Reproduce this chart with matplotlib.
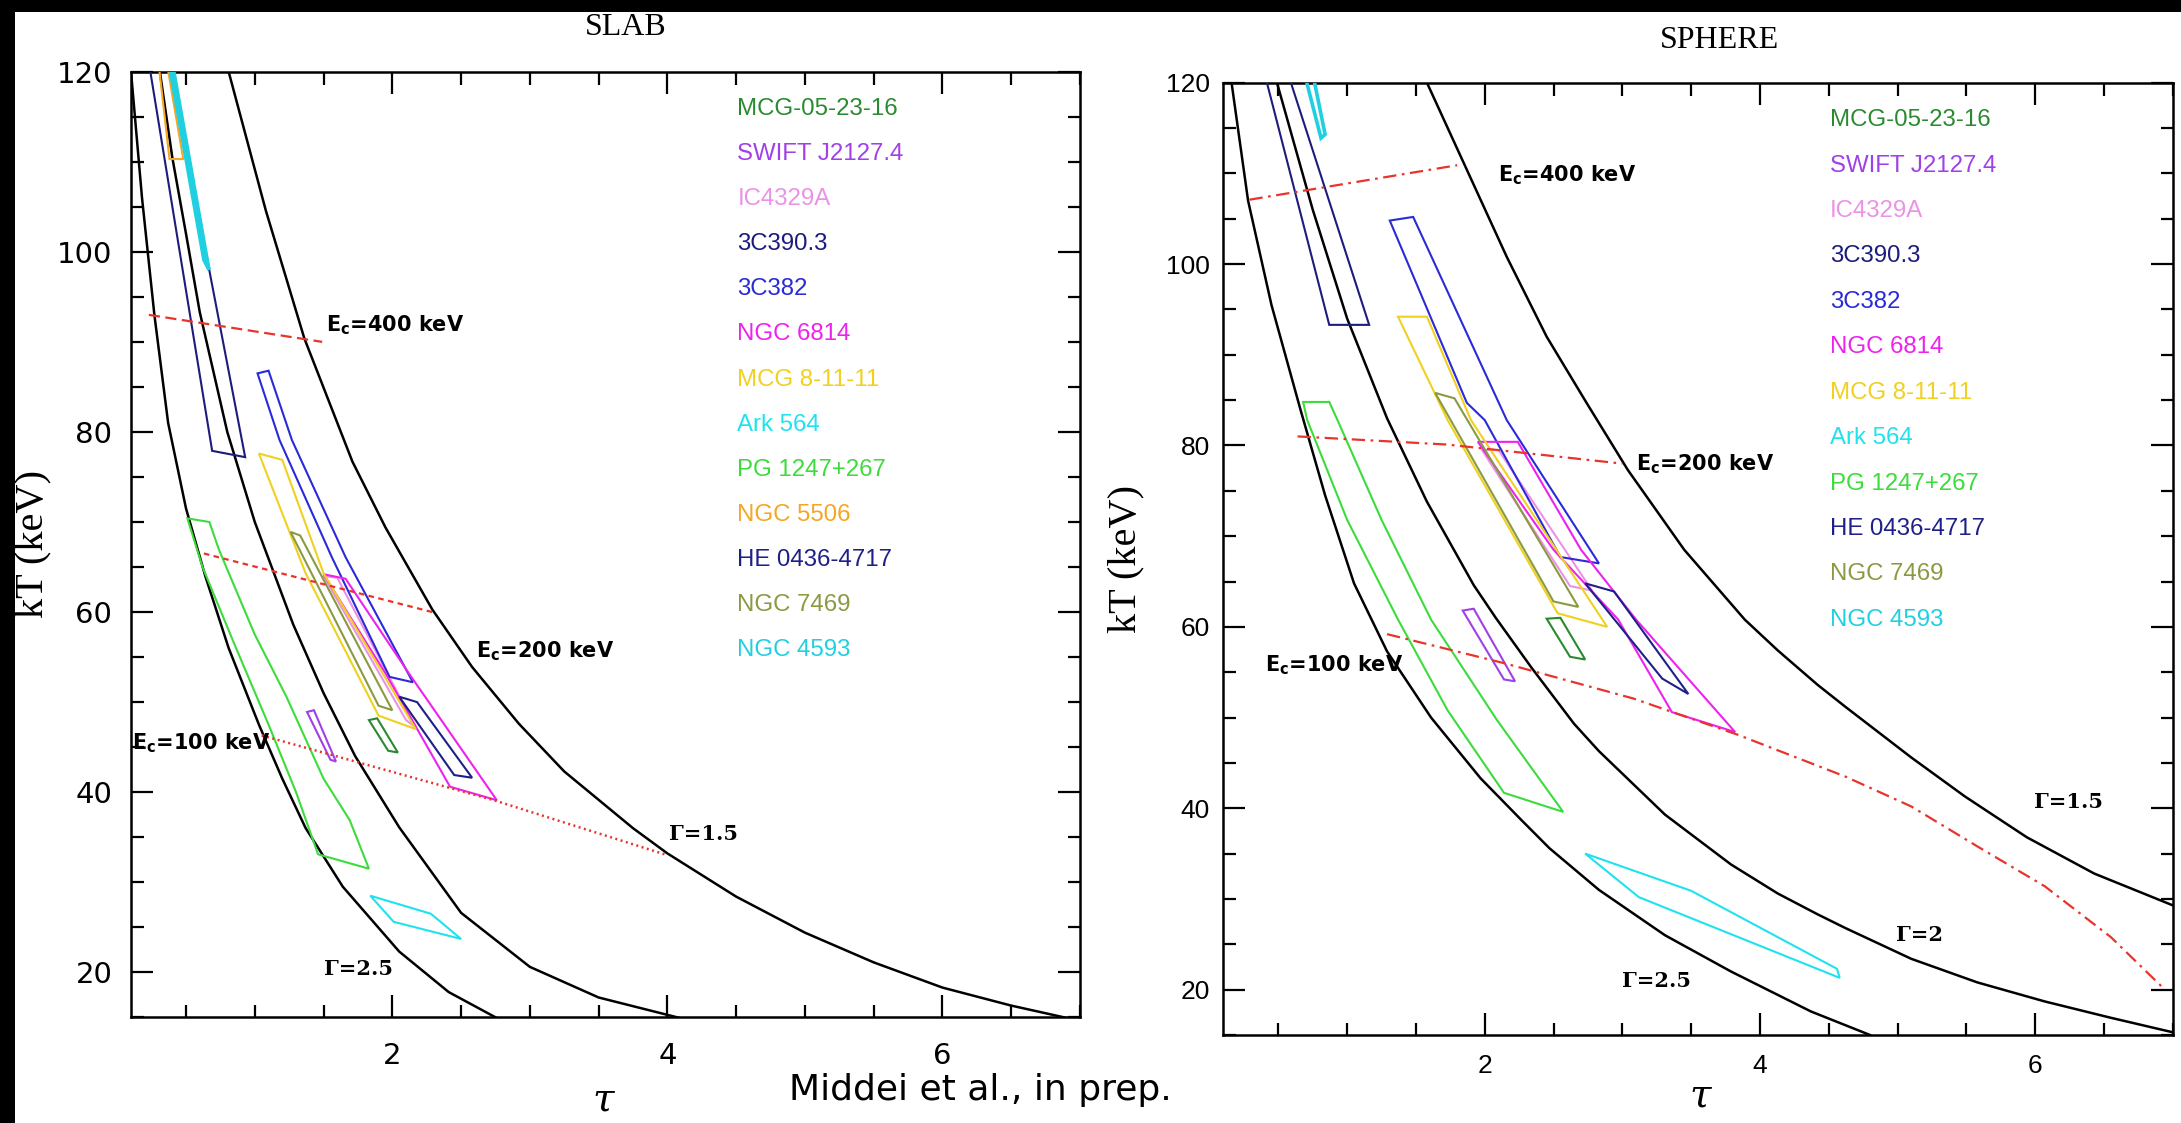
import matplotlib
matplotlib.use("Agg")
import matplotlib.pyplot as plt
from matplotlib.patches import Polygon, Rectangle
from matplotlib.ticker import MultipleLocator

plt.rcParams["mathtext.fontset"] = "custom"
plt.rcParams["mathtext.rm"] = "DejaVu Sans:bold"
plt.rcParams["mathtext.default"] = "rm"

# sources, in the order of the coloured list
sources = ["MCG-05-23-16", "SWIFT J2127.4", "IC4329A", "3C390.3", "3C382", "NGC 6814",
           "MCG 8-11-11", "Ark 564", "PG 1247+267", "NGC 5506", "HE 0436-4717",
           "NGC 7469", "NGC 4593"]
source_colors = ["#2a8a30", "#a040e8", "#ec92e6", "#1c1c7c", "#2a2ad8", "#ee22ee",
                 "#f0d020", "#20e2ee", "#3cdc3c", "#f5a623", "#1e2088",
                 "#8a9a40", "#20d0e0"]

# ---- SLAB: constant photon index curves (tau, kT) ----
slab_g15_tau = [0.81, 1.08, 1.36, 1.71, 1.95, 2.29, 2.58, 2.92, 3.25, 3.75, 4.0, 4.5, 5.0, 5.5, 6.0, 6.5, 7.0]
slab_g15_kt = [120, 104.6, 90.4, 76.7, 69.4, 60.3, 53.9, 47.6, 42.3, 36.0, 33.2, 28.4, 24.4, 21.1, 18.3, 16.3, 14.6]
slab_g2_tau = [0.31, 0.4, 0.5, 0.6, 0.8, 1.0, 1.28, 1.5, 1.73, 2.05, 2.5, 3.0, 3.5, 4.2]
slab_g2_kt = [120, 110.5, 102, 93.3, 80, 70, 58.6, 51, 44, 36.1, 26.6, 20.6, 17.2, 14.5]
slab_g25_tau = [0.10, 0.18, 0.27, 0.37, 0.50, 0.64, 0.81, 1.03, 1.20, 1.37, 1.64, 2.05, 2.41, 2.75]
slab_g25_kt = [120, 106, 93, 81, 71.5, 64, 56, 47.5, 41.5, 36, 29.5, 22.3, 17.8, 15]

# SLAB: cut-off energy tracks
slab_ec400_tau = [0.23, 1.49]
slab_ec400_kt = [93.0, 90.0]
slab_ec200_tau = [0.63, 2.29]
slab_ec200_kt = [66.5, 60.0]
slab_ec100_tau = [1.05, 2.74, 4.0]
slab_ec100_kt = [46.3, 39.1, 33.0]

# SLAB: confidence contours (tau, kT)
slab_mcg0523 = [(1.83, 48.0), (1.97, 44.6), (2.04, 44.4), (1.89, 48.2)]
slab_swift = [(1.38, 48.9), (1.55, 43.6), (1.59, 43.4), (1.43, 49.1)]
slab_ic4329a = [(1.50, 64.0), (2.10, 48.0), (2.17, 47.2), (1.60, 63.8)]
slab_3c390 = [(0.23, 121), (0.69, 77.9), (0.93, 77.2), (0.38, 121)]
slab_3c382 = [(1.02, 86.5), (1.18, 79.1), (1.56, 66.1), (1.98, 52.8), (2.15, 52.2),
              (1.66, 66.1), (1.27, 79.1), (1.10, 86.8)]
slab_ngc6814 = [(1.50, 64.2), (1.95, 53.2), (2.42, 40.6), (2.76, 39.1), (2.12, 53.2), (1.66, 63.7)]
slab_mcg81111 = [(1.03, 77.6), (1.37, 64.3), (1.90, 48.5), (2.17, 47.0), (1.50, 64.3), (1.20, 76.9)]
slab_ark564 = [(1.84, 28.5), (2.28, 26.5), (2.50, 23.7), (2.01, 25.6)]
slab_pg1247 = [(0.51, 70.4), (0.62, 65.0), (0.85, 56.5), (1.10, 47.5), (1.30, 40.0), (1.46, 33.1),
               (1.83, 31.5), (1.69, 36.9), (1.50, 41.5), (1.23, 50.6), (1.0, 57.5), (0.74, 66.9), (0.67, 70.0)]
slab_ngc5506 = [(0.30, 121), (0.38, 110.3), (0.48, 110.3), (0.36, 121)]
slab_he0436 = [(2.05, 50.6), (2.45, 41.9), (2.58, 41.6), (2.18, 50.0)]
slab_ngc7469 = [(1.26, 68.9), (1.90, 49.6), (2.00, 49.1), (1.33, 68.5)]
slab_ngc4593 = [(0.376, 121), (0.63, 99.1), (0.667, 98.0), (0.40, 121)]

# ---- SPHERE: constant photon index curves ----
sph_g15_tau = [1.58, 1.87, 2.16, 2.45, 2.74, 3.04, 3.45, 3.89, 4.13, 4.42, 4.62, 5.10, 5.49, 5.94, 6.43, 7.0]
sph_g15_kt = [120, 110.4, 100.8, 92.0, 84.7, 77.3, 68.5, 60.8, 57.4, 53.6, 51.2, 45.6, 41.3, 36.8, 32.8, 29.3]
sph_g2_tau = [0.49, 0.75, 1.0, 1.29, 1.58, 1.92, 2.08, 2.34, 2.65, 2.83, 3.31, 3.79, 4.13, 4.42,
              4.62, 5.10, 5.58, 6.07, 6.55, 7.0]
sph_g2_kt = [120, 106, 94, 83, 73.8, 64.6, 61, 55.5, 49.3, 46.3, 39.3, 33.8, 30.6, 28.3,
             26.8, 23.4, 20.8, 18.7, 16.9, 15.3]
sph_g25_tau = [0.16, 0.28, 0.45, 0.66, 0.84, 1.05, 1.29, 1.61, 1.97, 2.26, 2.47, 2.83, 3.31, 3.79, 4.37, 4.80]
sph_g25_kt = [120, 107, 95.5, 84, 74.5, 64.8, 57.3, 50.0, 43.3, 38.8, 35.6, 31.0, 26.0, 22.0, 17.6, 15.0]

# SPHERE: cut-off energy tracks
sph_ec400_tau = [0.29, 1.80]
sph_ec400_kt = [107.1, 110.9]
sph_ec200_tau = [0.64, 1.73, 3.0]
sph_ec200_kt = [81.0, 80.1, 78.0]
sph_ec100_tau = [1.29, 2.14, 3.08, 3.84, 4.62, 5.10, 5.58, 6.07, 6.55, 6.93]
sph_ec100_kt = [59.2, 56.0, 52.1, 48.1, 43.5, 40.2, 35.8, 31.4, 25.8, 20.2]

# SPHERE: confidence contours
sph_mcg0523 = [(2.45, 60.9), (2.62, 56.7), (2.73, 56.4), (2.55, 61.0)]
sph_swift = [(1.84, 61.8), (2.14, 54.2), (2.22, 54.0), (1.92, 62.0)]
sph_ic4329a = [(1.98, 79.5), (2.62, 64.5), (2.78, 64.0), (2.10, 79.5)]
sph_3c390 = [(0.40, 121), (0.87, 93.3), (1.16, 93.3), (0.57, 121)]
sph_3c382 = [(1.31, 104.8), (1.87, 84.7), (2.0, 82.8), (2.55, 67.7), (2.83, 67.0), (2.16, 82.8), (1.48, 105.2)]
sph_ngc6814 = [(1.95, 80.4), (2.50, 68.5), (2.97, 60.8), (3.36, 50.6), (3.82, 48.4), (3.10, 60.8),
               (2.70, 68.5), (2.24, 80.4)]
sph_mcg81111 = [(1.37, 94.2), (1.73, 82.8), (2.53, 61.5), (2.89, 60.0), (1.90, 82.8), (1.58, 94.2)]
sph_ark564 = [(2.73, 35.0), (3.50, 30.9), (4.56, 22.3), (4.58, 21.3), (3.12, 30.2)]
sph_pg1247 = [(0.68, 84.8), (0.71, 82.8), (1.0, 71.8), (1.37, 60.8), (1.73, 50.8), (2.14, 41.7),
              (2.57, 39.6), (2.09, 49.7), (1.61, 60.8), (1.25, 71.8), (0.93, 82.8), (0.87, 84.8)]
sph_he0436 = [(2.73, 64.8), (3.29, 54.3), (3.48, 52.6), (2.94, 63.9)]
sph_ngc7469 = [(1.64, 85.8), (2.50, 62.8), (2.68, 62.2), (1.78, 85.2)]
sph_ngc4593 = [(0.69, 121), (0.81, 113.9), (0.84, 114.3), (0.75, 121)]

color_of = dict(zip(sources, source_colors))

slab_contours = [slab_mcg0523, slab_swift, slab_ic4329a, slab_3c390, slab_3c382, slab_ngc6814,
                 slab_mcg81111, slab_ark564, slab_pg1247, slab_ngc5506, slab_he0436,
                 slab_ngc7469, slab_ngc4593]
slab_names = list(sources)
sph_contours = [sph_mcg0523, sph_swift, sph_ic4329a, sph_3c390, sph_3c382, sph_ngc6814,
                sph_mcg81111, sph_ark564, sph_pg1247, sph_he0436, sph_ngc7469, sph_ngc4593]
sph_names = [s for s in sources if s != "NGC 5506"]

W, H = 2181, 1123
fig = plt.figure(figsize=(W / 100, H / 100), dpi=100, facecolor="black")
fig.add_artist(Rectangle((15 / W, 0), 1, 1 - 11.5 / H, transform=fig.transFigure,
                         facecolor="white", edgecolor="none", zorder=-5))

ax1 = fig.add_axes([131 / W, 1 - 1017.3 / H, (1080 - 131) / W, (1017.3 - 71.7) / H])
ax2 = fig.add_axes([1223.3 / W, 1 - 1035 / H, (2172.7 - 1223.3) / W, (1035 - 82.7) / H])


def style_axes(ax, font, size, ypad, xpad):
    ax.set_xlim(0.1, 7)
    ax.set_ylim(15, 120)
    ax.xaxis.set_major_locator(MultipleLocator(2))
    ax.xaxis.set_minor_locator(MultipleLocator(0.5))
    ax.yaxis.set_major_locator(MultipleLocator(20))
    ax.yaxis.set_minor_locator(MultipleLocator(5))
    ax.tick_params(which="both", direction="in", top=True, right=True, width=1.6, color="black")
    ax.tick_params(which="major", length=16)
    ax.tick_params(which="minor", length=9)
    ax.tick_params(axis="y", pad=ypad, labelsize=size, labelfontfamily=font)
    ax.tick_params(axis="x", pad=xpad, labelsize=size, labelfontfamily=font)
    for sp in ax.spines.values():
        sp.set_linewidth(1.8)


def draw_panel(ax, gammas, contours, names):
    for tau, kt in gammas:
        ax.plot(tau, kt, color="black", lw=1.8, zorder=3)
    for poly, name in zip(contours, names):
        lw = 2.6 if name == "NGC 4593" else 1.5
        ax.add_patch(Polygon(poly, closed=True, fill=False, edgecolor=color_of[name], lw=lw, zorder=4))
    for i, name in enumerate(names):
        ax.text(0.639, 0.9606 - i * 0.0477, name, transform=ax.transAxes, color=color_of[name],
                fontsize=17.3, family="Liberation Sans", ha="left", va="center")


red = "#e8342c"
lab = dict(fontsize=15, family="DejaVu Sans", fontweight="bold", ha="left", va="center", zorder=6)
glab = dict(fontsize=15, family="DejaVu Serif", fontweight="bold", ha="left", va="center", zorder=6)

# SLAB panel
style_axes(ax1, "DejaVu Sans", 21, 13.5, 18)
draw_panel(ax1, [(slab_g15_tau, slab_g15_kt), (slab_g2_tau, slab_g2_kt), (slab_g25_tau, slab_g25_kt)],
           slab_contours, slab_names)
ax1.plot(slab_ec400_tau, slab_ec400_kt, color=red, lw=1.6, dashes=[5, 2.5], zorder=5)
ax1.plot(slab_ec200_tau, slab_ec200_kt, color=red, lw=1.6, dashes=[2.5, 2], zorder=5)
ax1.plot(slab_ec100_tau, slab_ec100_kt, color=red, lw=1.8, dashes=[0.8, 1.4], zorder=5)
ax1.text(1.52, 91.8, r"E$_{\rm c}$=400 keV", **lab)
ax1.text(2.61, 55.6, r"E$_{\rm c}$=200 keV", **lab)
ax1.text(0.11, 45.4, r"E$_{\rm c}$=100 keV", **lab)
ax1.text(4.01, 35.4, "Γ=1.5", **glab)
ax1.text(1.50, 20.4, "Γ=2.5", **glab)

# SPHERE panel
style_axes(ax2, "Liberation Sans", 19, 9.5, 13.5)
draw_panel(ax2, [(sph_g15_tau, sph_g15_kt), (sph_g2_tau, sph_g2_kt), (sph_g25_tau, sph_g25_kt)],
           sph_contours, sph_names)
for tau, kt in [(sph_ec400_tau, sph_ec400_kt), (sph_ec200_tau, sph_ec200_kt), (sph_ec100_tau, sph_ec100_kt)]:
    ax2.plot(tau, kt, color=red, lw=1.6, dashes=[6, 2.5, 1.2, 2.5], zorder=5)
ax2.text(2.10, 109.8, r"E$_{\rm c}$=400 keV", **lab)
ax2.text(3.10, 77.9, r"E$_{\rm c}$=200 keV", **lab)
ax2.text(0.40, 55.8, r"E$_{\rm c}$=100 keV", **lab)
ax2.text(5.99, 40.7, "Γ=1.5", **glab)
ax2.text(4.99, 26.0, "Γ=2", **glab)
ax2.text(3.00, 20.9, "Γ=2.5", **glab)

# titles and axis labels
fig.text(626 / W, 1 - 27.5 / H, "SLAB", fontsize=23, family="Liberation Serif", ha="center", va="center")
fig.text(1720 / W, 1 - 40 / H, "SPHERE", fontsize=23, family="Liberation Serif", ha="center", va="center")
fig.text(33 / W, 1 - 544 / H, "kT (keV)", fontsize=29, family="Liberation Serif", rotation=90,
         ha="center", va="center")
fig.text(1126 / W, 1 - 559 / H, "kT (keV)", fontsize=29, family="Liberation Serif", rotation=90,
         ha="center", va="center")
fig.text(603 / W, 1 - 1100 / H, "τ", fontsize=28, family="DejaVu Serif", style="italic",
         ha="center", va="center")
fig.text(1700 / W, 1 - 1096 / H, "τ", fontsize=28, family="DejaVu Serif", style="italic",
         ha="center", va="center")
fig.text(980 / W, 1 - 1090 / H, "Middei et al., in prep.", fontsize=26, family="DejaVu Sans",
         ha="center", va="center")

fig.savefig("out.png", dpi=100, facecolor=fig.get_facecolor())
